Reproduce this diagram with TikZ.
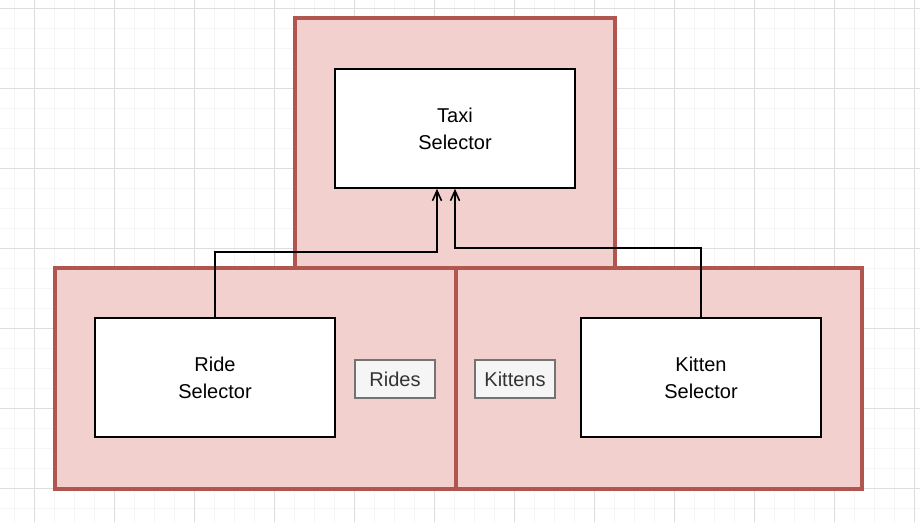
\documentclass[tikz,border=0pt]{standalone}
\usepackage{fontspec}
\setmainfont{Liberation Sans}
\usetikzlibrary{arrows.meta}
\definecolor{redfill}{HTML}{F2D0CE}
\definecolor{redline}{HTML}{B0564F}
\definecolor{gridminor}{HTML}{F5F5F5}
\definecolor{gridmajor}{HTML}{DDDDDD}
\tikzset{
  panel/.style={draw=redline, fill=redfill, line width=4.5pt},
  box/.style={draw=black, fill=white, line width=1.6pt, minimum width=240pt, minimum height=119pt, align=center, font=\fontsize{20}{27}\selectfont},
  tag/.style={draw=black!55, fill=black!4, line width=1.3pt, minimum width=80pt, minimum height=38pt, text=black!80, font=\fontsize{20}{24}\selectfont},
  link/.style={draw=black, line width=1.6pt, -{Straight Barb[length=10pt,width=9pt]}}
}
\begin{document}
\begin{tikzpicture}[x=1pt,y=-1pt]
\useasboundingbox (0,0) rectangle (920,522);
% background grid
\foreach \gx in {14,34,...,914} \draw[gridminor, line width=1pt] (\gx,0) -- (\gx,522);
\foreach \gy in {8,28,...,520} \draw[gridminor, line width=1pt] (0,\gy) -- (920,\gy);
\foreach \gx in {34,114,...,914} \draw[gridmajor, line width=1pt] (\gx,0) -- (\gx,522);
\foreach \gy in {8,88,...,520} \draw[gridmajor, line width=1pt] (0,\gy) -- (920,\gy);
% panels
\draw[panel] (295,18) rectangle (615,268);
\draw[panel] (55,268) rectangle (456,489);
\draw[panel] (456,268) rectangle (862,489);
% selectors
\node[box] (taxi) at (455,128.5) {Taxi\\Selector};
\node[box] (ride) at (215,377.5) {Ride\\Selector};
\node[box] (kitten) at (701,377.5) {Kitten\\Selector};
\node[tag] (rides) at (395,379) {Rides};
\node[tag] (kittens) at (515,379) {Kittens};
% connectors
\draw[link] (ride.north) |- (437,252) -- (taxi.south -| 437,0);
\draw[link] (kitten.north) |- (455,248) -- (taxi.south);
\end{tikzpicture}
\end{document}
